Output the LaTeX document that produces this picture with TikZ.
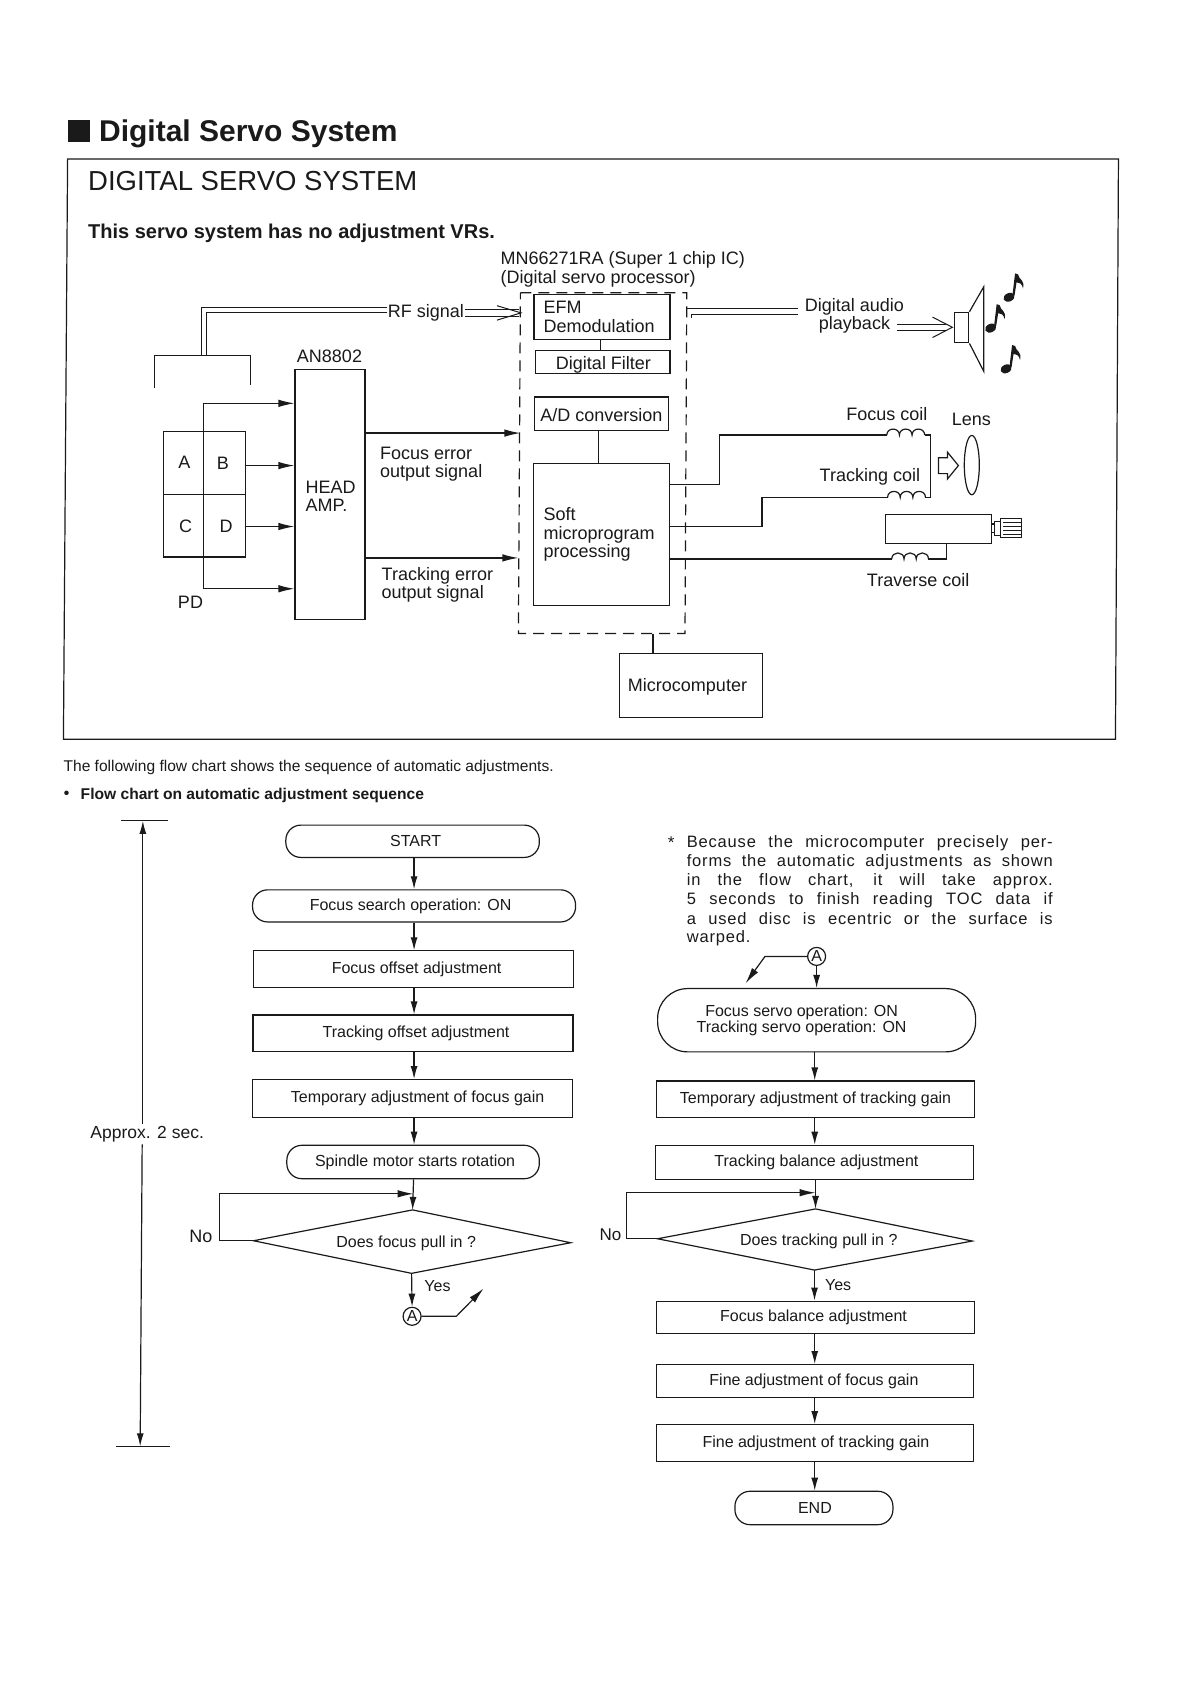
\documentclass[tikz,border=0pt]{standalone}
\usepackage{fontspec}
\setmainfont{Liberation Sans}
\usetikzlibrary{arrows.meta,shapes.geometric}
\definecolor{ink}{HTML}{1A1A1A}
\newcommand\fsz[1]{\fontsize{#1}{#1}\selectfont}
\newcommand\coilat[3]{\draw[wire] (#1,#2) .. controls (#1,#2-8) and (#1+#3,#2-8) .. (#1+#3,#2) .. controls (#1+#3,#2-8) and (#1+2*#3,#2-8) .. (#1+2*#3,#2) .. controls (#1+2*#3,#2-8) and (#1+3*#3,#2-8) .. (#1+3*#3,#2);}
\newcommand\mnote[2]{\begin{scope}[shift={(#1,#2)}]
\fill[ink,rotate=25] (0,0) ellipse [x radius=5.8pt,y radius=4.2pt];
\fill[ink] (3.5,-3) -- (6,-24) -- (9,-23) .. controls (10,-17) and (16,-18) .. (14,-9) .. controls (13,-14) and (10,-15) .. (7.5,-15) -- (5.5,-2) -- cycle;
\end{scope}}
\newcommand\dn[2]{\raisebox{-#1pt}{#2}}
\tikzset{
 ax/.style={x=1pt,y=-0.99417pt},
 bx/.style={x=0.99417pt,y=-0.99417pt},
 wire/.style={draw=ink,line width=1.2pt},
 dbl/.style={draw=ink,line width=1pt},
 arr/.style={wire,-{Latex[length=16pt,width=7.5pt]}},
 varr/.style={wire,-{Latex[length=13pt,width=7pt]}},
 sbox/.style={draw=ink,line width=1.2pt,inner sep=0pt,rectangle,align=center},
 dtxt/.style={inner sep=0pt,text=ink,font=\fontsize{18}{18.4}\selectfont,align=left},
 flowbox/.style={sbox,font=\fsz{16},text=ink},
 pillbox/.style={sbox,font=\fsz{16},text=ink,rounded corners=15pt},
 decide/.style={draw=none,inner sep=0pt,text=ink,font=\fsz{16}},
 ring/.style={circle,draw=ink,line width=1.2pt,inner sep=0pt,minimum size=18pt,font=\fsz{16},text=ink},
 notetxt/.style={inner sep=0pt,anchor=west,text=ink,font=\fsz{16.5}\addfontfeature{LetterSpace=5}},
}
\newcommand\nline[1]{\makebox[366pt][s]{#1}}
\begin{document}
\begin{tikzpicture}[ax]
\useasboundingbox (0pt,0pt) rectangle (1190pt,-1684pt);
\fill[white] (0pt,0pt) rectangle (1190pt,-1684pt);
\begin{scope}[bx]
% title
\fill[ink] (68.5,121) rectangle (90.5,143);
\node[inner sep=0pt,anchor=west,font=\bfseries\fsz{30},text=ink] (title) at (99.5,135) {Digital Servo System};
\draw[wire] (68,160) -- (1125,160) -- (1122,743.6) -- (63.8,743.6) -- cycle;
\node[inner sep=0pt,anchor=west,font=\fsz{27.5},text=ink] (head) at (88.5,182.5) {DIGITAL SERVO SYSTEM};
\node[inner sep=0pt,anchor=west,font=\bfseries\fsz{20},text=ink] (sub) at (88.5,235) {This servo system has no adjustment VRs.};
\end{scope}
\node[dtxt,anchor=west] (mn) at (500.5,271) {MN66271RA (Super 1 chip IC)\\(Digital servo processor)};
% blocks
\node[sbox,minimum width=70pt,minimum height=250pt] (amp) at (330,497.4) {};
\node[dtxt,anchor=west] (amptxt) at (305.5,499) {HEAD\\AMP.};
\node[dtxt] (an) at (329.5,358.5) {AN8802};
\node[sbox,minimum width=81.5pt,minimum height=125.3pt] (pd) at (204.5,497.2) {};
\draw[wire] (pd.west) -- (pd.east);
\node[dtxt,font=\fsz{18}] (lA) at (184.5,465.5) {A};
\node[dtxt,font=\fsz{18}] (lB) at (223,466.5) {B};
\node[dtxt,font=\fsz{18}] (lC) at (185.5,529.5) {C};
\node[dtxt,font=\fsz{18}] (lD) at (226,529.5) {D};
\node[dtxt,font=\fsz{18}] (lPD) at (190.5,605.5) {PD};
\coordinate (pdtop) at (203.5,405.7);
\coordinate (pdbot) at (203.5,592.2);
\draw[wire] (pdtop) -- (pdbot);
\draw[arr] (pdtop) -- (pdtop -| amp.west);
\draw[arr] (pdbot) -- (pdbot -| amp.west);
\draw[arr] (pd.east |- 0,468.3) -- (amp.west |- 0,468.3);
\draw[arr] (pd.east |- 0,529.6) -- (amp.west |- 0,529.6);
% dashed processor
\coordinate (d1) at (520.4,294.5);
\coordinate (d2) at (686.8,294.5);
\coordinate (d3) at (685,637.3);
\coordinate (d4) at (518.4,637.3);
\draw[wire,dash pattern=on 11pt off 7pt] (d1) -- (d2) -- (d3) -- (d4) -- cycle;
\node[sbox,minimum width=136pt,minimum height=45pt] (efm) at (602,318.5) {};
\node[dtxt,anchor=west] (efmtxt) at (543.5,318.8) {EFM\\Demodulation};
\node[sbox,minimum width=134.7pt,minimum height=23.2pt] (dfil) at (602.6,364.4) {};
\node[dtxt] (dfiltxt) at (603.5,366.5) {Digital Filter};
\node[sbox,minimum width=134pt,minimum height=33.7pt] (adc) at (601.5,416.2) {};
\node[dtxt] (adctxt) at (601.5,417.5) {A/D conversion};
\node[sbox,minimum width=136pt,minimum height=142pt] (soft) at (601.6,537.6) {};
\node[dtxt,anchor=west] (softtxt) at (543.5,537.5) {Soft\\microprogram\\processing};
\draw[wire] (efm.south -| 600.3,0) -- (dfil.north -| 600.3,0);
\draw[wire] (adc.south -| 598.5,0) -- (soft.north -| 598.5,0);
\node[sbox,minimum width=143pt,minimum height=64.4pt] (mc) at (691,689.5) {};
\node[dtxt] (mctxt) at (687.5,691) {Microcomputer};
\draw[wire] (mc.north -| 653,0) -- (653,637.3);
% RF
\node[dtxt] (rf) at (426,315) {RF signal};
\coordinate (brk1) at (154.5,389.8);
\coordinate (brk2) at (154.5,357.8);
\coordinate (brk3) at (250.5,357.8);
\coordinate (brk4) at (250.5,387);
\draw[wire] (brk1) -- (brk2) -- (brk3) -- (brk4);
\draw[dbl] (201,357.8) -- (201,309.3) -- ([xshift=-1pt]rf.west |- 0,309.3);
\draw[dbl] (206,357.8) -- (206,314.8) -- ([xshift=-1pt]rf.west |- 0,314.8);
\draw[dbl] ([xshift=1pt]rf.east |- 0,311.5) -- (519,311.5);
\draw[dbl] ([xshift=1pt]rf.east |- 0,318) -- (519,318);
\draw[dbl] (497,307.5) -- (521,314.7) -- (497,322);
% signals
\draw[arr] (amp.east |- 0,435.6) -- (d1 |- 0,435.6);
\draw[arr] (amp.east |- 0,561.2) -- (d4 |- 0,561.2);
\node[dtxt,anchor=west] (fe) at (380,467) {Focus error\\output signal};
\node[dtxt,anchor=west] (te) at (381.5,588) {Tracking error\\output signal};
% audio double lines
\draw[dbl] (687,310.7) -- (798,310.7);
\draw[dbl] (691,316) -- (798,316);
\draw[dbl] (691,316) -- (691,320);
\begin{scope}[bx]
\node[dtxt,align=center] (audio) at (859.5,317.5) {Digital audio\\playback};
\node[sbox,minimum width=14pt,minimum height=30.5pt] (spk) at (967.5,329.5) {};
\draw[wire] (spk.north east) -- (989.5,288.5) -- (989.5,373.5) -- (spk.south east);
\draw[dbl] (902,326) -- (952,326);
\draw[dbl] (902,332.5) -- (952,332.5);
\draw[dbl] (938,319) -- (958,329.2) -- (938,339.5);
\mnote{1015}{299}
\mnote{996.5}{330}
\mnote{1012}{371}
% coils
\node[dtxt] (fc) at (892,416.5) {Focus coil};
\node[dtxt] (tc) at (875,480) {Tracking coil};
\node[dtxt] (lens) at (977,422) {Lens};
\node[dtxt] (trv) at (923.5,583.5) {Traverse coil};
\draw[wire] (soft.east |- 0,487.5) -- (723.5,487.5) -- (723.5,437.6) -- (892,437.6);
\coilat{892}{437.6}{12.7}
\draw[wire] (930.1,437.6) -- (936,437.6) -- (936,500.3) -- (930.8,500.3);
\coilat{892.8}{500.3}{12.7}
\draw[wire] (892.8,500.3) -- (766.5,500.3) -- (766.5,529.6) -- (soft.east |- 0,529.6);
\draw[wire] (soft.east |- 0,562.2) -- (897,562.2);
\coilat{897}{562.2}{12.3}
\node[sbox,minimum width=105.4pt,minimum height=29pt] (motor) at (944,532.4) {};
\draw[wire] (933.9,562.2) -- (952,562.2) -- (952,547);
\draw[wire] (motor.east |- 0,527) -- (1000,527);
\draw[wire] (motor.east |- 0,536) -- (1000,536);
\draw[wire,line width=.8pt] (1000,524.5) rectangle (1006,539);
\draw[wire,line width=.8pt] (1006,521) rectangle (1027,540.5);
\foreach \yy in {525,529,533,537} \draw[wire,line width=.7pt] (1009,\yy) -- (1027,\yy);
\draw[wire] (944,460.5) -- (953,460.5) -- (953,454.8) -- (964,468.3) -- (953,481.8) -- (953,476.4) -- (944,476.4) -- cycle;
\node[ellipse,draw=ink,line width=1.2pt,minimum width=15pt,minimum height=59.3pt,inner sep=0pt] (lensshape) at (977.5,467.8) {};
% text under frame
\node[inner sep=0pt,anchor=west,font=\fsz{15.55},text=ink] (intro) at (63.8,771.6) {The following flow chart shows the sequence of automatic adjustments.};
\node[inner sep=0pt,anchor=west,font=\bfseries\fsz{15.6},text=ink] (bul) at (64,799.7) {•};
\node[inner sep=0pt,anchor=west,font=\bfseries\fsz{15.6},text=ink] (flowt) at (81,799.7) {Flow chart on automatic adjustment sequence};
% timing bar
\coordinate (tb1) at (122,825.7);
\coordinate (tb2) at (168.6,825.7);
\coordinate (tb3) at (116.5,1454.8);
\coordinate (tb4) at (170.8,1454.8);
\draw[wire] (tb1) -- (tb2);
\draw[wire] (tb3) -- (tb4);
\node[inner sep=2pt,fill=white,font=\fsz{17.5},text=ink] (approx) at (148,1141) {Approx. 2 sec.};
\draw[varr] (approx.north -| 143.7,0) -- (143.7,825.7);
\draw[varr] (approx.south -| 143,0) -- (141,1454.8);
% left flow
\coordinate (cl) at (416.5,0);
\node[pillbox,minimum width=253.5pt,minimum height=32.3pt] (start) at (415,846.2) {\hspace*{6pt}START};
\node[pillbox,minimum width=323pt,minimum height=32.1pt] (fs) at (416.5,911.2) {\hspace*{-7pt}Focus search operation: ON};
\node[flowbox,minimum width=320pt,minimum height=36.3pt] (fo) at (416,974.7) {\hspace*{6pt}Focus offset adjustment};
\node[flowbox,minimum width=320pt,minimum height=36.8pt] (to) at (415.5,1039.5) {\hspace*{6pt}\dn{2}{Tracking offset adjustment}};
\node[flowbox,minimum width=320pt,minimum height=37.8pt] (tf) at (415,1105) {\hspace*{10pt}\dn{2}{Temporary adjustment of focus gain}};
\node[pillbox,minimum width=252.5pt,minimum height=33.4pt] (sp) at (415.5,1168.8) {\hspace*{4pt}Spindle motor starts rotation};
\draw[varr] (start.south -| cl) -- (fs.north -| cl);
\draw[varr] (fs.south -| cl) -- (fo.north -| cl);
\draw[varr] (fo.south -| cl) -- (to.north -| cl);
\draw[varr] (to.south -| cl) -- (tf.north -| cl);
\draw[varr] (tf.south -| cl) -- (sp.north -| cl);
\node[decide] (dl) at (408.5,1251) {Does focus pull in ?};
\coordinate (dlL) at (255,1248);
\coordinate (dlT) at (415,1217);
\coordinate (dlR) at (574,1250);
\coordinate (dlB) at (414,1280.8);
\draw[wire] (dlL) -- (dlT) -- (dlR) -- (dlB) -- cycle;
\coordinate (jl) at (416,1200.8);
\draw[varr] (sp.south -| 416,0) -- (dlT);
\coordinate (nl) at (220.5,1248);
\draw[arr] (dlL) -- (nl) -- (nl |- jl) -- (jl);
\node[inner sep=0pt,font=\fsz{18},text=ink] (nol) at (202,1244) {No};
\node[inner sep=0pt,font=\fsz{16},text=ink] (yl) at (440,1293.7) {Yes};
\node[ring] (al) at (414.5,1324) {A};
\draw[varr] (dlB) -- (al.north);
\coordinate (kl) at (459,1324);
\coordinate (tl) at (486.5,1296);
\draw[arr] (al.east) -- (kl) -- (tl);
% note
\node[inner sep=0pt,font=\fsz{17},text=ink] (star) at (675,848) {*};
\node[notetxt] (n1) at (690.6,848.3) {\nline{Because the microcomputer precisely per-}};
\node[notetxt] (n2) at (690.6,866.9) {\nline{forms the automatic adjustments as shown}};
\node[notetxt] (n3) at (690.6,886.2) {\nline{in the flow chart, it will take approx.}};
\node[notetxt] (n4) at (690.6,905.6) {\nline{5 seconds to finish reading TOC data if}};
\node[notetxt] (n5) at (690.6,924) {\nline{a used disc is ecentric or the surface is}};
\node[notetxt] (n6) at (690.6,943.5) {warped.};
% right flow
\coordinate (cr) at (819.5,0);
\node[ring] (ar) at (821.4,962) {A};
\node[pillbox,rounded corners=30pt,minimum width=318pt,minimum height=63.3pt,align=center,font=\fontsize{16}{16.2}\selectfont] (pill) at (821.4,1026.2) {\hspace*{-30pt}Focus servo operation: ON\\\hspace*{-30pt}Tracking servo operation: ON};
\draw[varr] (ar.south) -- (ar.south |- pill.north);
\coordinate (kr) at (769.5,962);
\coordinate (tr) at (750,989);
\draw[arr] (ar.west) -- (kr) -- (tr);
\node[flowbox,minimum width=318pt,minimum height=36.5pt] (tt) at (820.3,1105.7) {\dn{1}{Temporary adjustment of tracking gain}};
\node[flowbox,minimum width=318pt,minimum height=34.5pt] (tb) at (819.2,1169.4) {\hspace*{4pt}Tracking balance adjustment};
\draw[varr] (pill.south -| cr) -- (tt.north -| cr);
\draw[varr] (tt.south -| cr) -- (tb.north -| cr);
\node[decide] (dr) at (823.6,1248.3) {Does tracking pull in ?};
\coordinate (drL) at (661.4,1246);
\coordinate (drT) at (820.3,1216);
\coordinate (drR) at (978,1248.3);
\coordinate (drB) at (819.3,1277.5);
\draw[wire] (drL) -- (drT) -- (drR) -- (drB) -- cycle;
\coordinate (jr) at (820.3,1199.7);
\draw[varr] (tb.south -| 820.3,0) -- (drT);
\coordinate (nr) at (630,1246);
\draw[arr] (drL) -- (nr) -- (nr |- jr) -- (jr);
\node[inner sep=0pt,font=\fsz{17},text=ink] (nor) at (614,1241.8) {No};
\node[inner sep=0pt,font=\fsz{16},text=ink] (yr) at (843,1292.6) {Yes};
\node[flowbox,minimum width=318pt,minimum height=32.3pt] (fb) at (820.3,1325) {\hspace*{-4pt}\dn{1}{Focus balance adjustment}};
\node[flowbox,minimum width=317pt,minimum height=33.2pt] (ff) at (819.7,1389.3) {\hspace*{-2pt}\dn{1.5}{Fine adjustment of focus gain}};
\node[flowbox,minimum width=317pt,minimum height=36.8pt] (ft) at (819.7,1451.5) {\hspace*{2pt}\dn{1}{Fine adjustment of tracking gain}};
\node[pillbox,minimum width=158pt,minimum height=33.4pt] (endn) at (818.7,1516.8) {\hspace*{2pt}END};
\draw[varr] (drB) -- (drB |- fb.north);
\draw[varr] (fb.south -| cr) -- (ff.north -| cr);
\draw[varr] (ff.south -| cr) -- (ft.north -| cr);
\draw[varr] (ft.south -| cr) -- (endn.north -| cr);
\end{scope}
\end{tikzpicture}
\end{document}
